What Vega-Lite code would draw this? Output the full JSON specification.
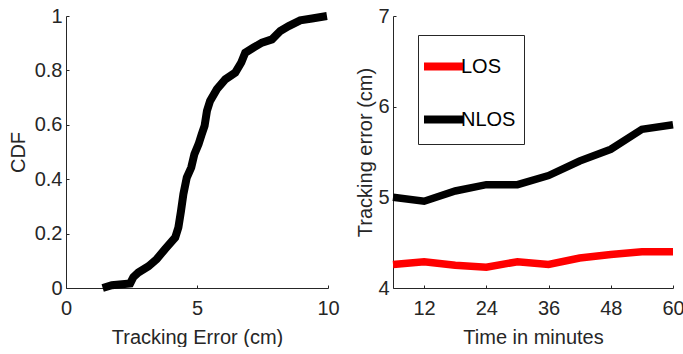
{
  "$schema": "https://vega.github.io/schema/vega-lite/v6.json",
  "padding": {"left": 8, "top": 0, "right": 0, "bottom": 0},
  "background": "white",
  "spacing": 12,
  "config": {
    "font": "Liberation Sans",
    "view": {"stroke": null},
    "axis": {
      "grid": false,
      "domainColor": "#262626",
      "tickColor": "#262626",
      "labelColor": "#262626",
      "titleColor": "#262626",
      "labelFontSize": 20,
      "titleFontSize": 20,
      "titleFontWeight": "normal",
      "tickSize": -3,
      "domainWidth": 1,
      "labelFlush": false
    },
    "axisX": {"labelPadding": 13, "titlePadding": 9},
    "axisY": {"labelPadding": 7, "titlePadding": 6},
    "legend": {
      "labelFontSize": 20,
      "labelColor": "black",
      "labelFont": "Liberation Sans"
    }
  },
  "hconcat": [
    {
      "width": 262,
      "height": 272,
      "data": {
        "values": [
          {"error": 1.4, "cdf": 0.0},
          {"error": 1.75, "cdf": 0.01},
          {"error": 2.45, "cdf": 0.017},
          {"error": 2.57, "cdf": 0.04},
          {"error": 2.76, "cdf": 0.057},
          {"error": 3.15, "cdf": 0.08},
          {"error": 3.46, "cdf": 0.106},
          {"error": 3.78, "cdf": 0.143},
          {"error": 4.17, "cdf": 0.186},
          {"error": 4.29, "cdf": 0.223},
          {"error": 4.39, "cdf": 0.284},
          {"error": 4.48, "cdf": 0.345},
          {"error": 4.61, "cdf": 0.406},
          {"error": 4.78, "cdf": 0.443},
          {"error": 4.9, "cdf": 0.492},
          {"error": 5.06, "cdf": 0.529},
          {"error": 5.18, "cdf": 0.565},
          {"error": 5.29, "cdf": 0.596},
          {"error": 5.38, "cdf": 0.651},
          {"error": 5.5, "cdf": 0.688},
          {"error": 5.76, "cdf": 0.731},
          {"error": 6.08, "cdf": 0.767},
          {"error": 6.46, "cdf": 0.792},
          {"error": 6.69, "cdf": 0.829},
          {"error": 6.84, "cdf": 0.865},
          {"error": 7.16, "cdf": 0.884},
          {"error": 7.48, "cdf": 0.902},
          {"error": 7.86, "cdf": 0.914},
          {"error": 8.18, "cdf": 0.945},
          {"error": 8.5, "cdf": 0.963},
          {"error": 8.94, "cdf": 0.984},
          {"error": 9.39, "cdf": 0.991},
          {"error": 9.96, "cdf": 1.0}
        ]
      },
      "mark": {"type": "line", "color": "black", "strokeWidth": 8},
      "encoding": {
        "x": {
          "field": "error",
          "type": "quantitative",
          "scale": {"domain": [0, 10], "nice": false},
          "axis": {"values": [0, 5, 10], "title": "Tracking Error (cm)"}
        },
        "y": {
          "field": "cdf",
          "type": "quantitative",
          "scale": {"domain": [0, 1], "nice": false},
          "axis": {"values": [0, 0.2, 0.4, 0.6, 0.8, 1], "format": "~g", "title": "CDF"}
        }
      }
    },
    {
      "width": 280,
      "height": 272,
      "data": {
        "values": [
          {"time": 6, "cond": "LOS", "err": 4.26},
          {"time": 12, "cond": "LOS", "err": 4.29},
          {"time": 18, "cond": "LOS", "err": 4.25},
          {"time": 24, "cond": "LOS", "err": 4.23},
          {"time": 30, "cond": "LOS", "err": 4.29},
          {"time": 36, "cond": "LOS", "err": 4.26},
          {"time": 42, "cond": "LOS", "err": 4.33},
          {"time": 48, "cond": "LOS", "err": 4.37},
          {"time": 54, "cond": "LOS", "err": 4.4},
          {"time": 60, "cond": "LOS", "err": 4.4},
          {"time": 6, "cond": "NLOS", "err": 5.0},
          {"time": 12, "cond": "NLOS", "err": 4.957},
          {"time": 18, "cond": "NLOS", "err": 5.07},
          {"time": 24, "cond": "NLOS", "err": 5.14},
          {"time": 30, "cond": "NLOS", "err": 5.14},
          {"time": 36, "cond": "NLOS", "err": 5.24},
          {"time": 42, "cond": "NLOS", "err": 5.4},
          {"time": 48, "cond": "NLOS", "err": 5.53},
          {"time": 54, "cond": "NLOS", "err": 5.75},
          {"time": 60, "cond": "NLOS", "err": 5.8}
        ]
      },
      "mark": {"type": "line", "strokeWidth": 7.5},
      "encoding": {
        "x": {
          "field": "time",
          "type": "quantitative",
          "scale": {"domain": [6, 60], "nice": false, "zero": false},
          "axis": {"values": [12, 24, 36, 48, 60], "title": "Time in minutes"}
        },
        "y": {
          "field": "err",
          "type": "quantitative",
          "scale": {"domain": [4, 7], "nice": false, "zero": false},
          "axis": {"values": [4, 5, 6, 7], "title": "Tracking error (cm)", "titlePadding": 2}
        },
        "color": {
          "field": "cond",
          "type": "nominal",
          "scale": {"domain": ["LOS", "NLOS"], "range": ["#ff0000", "#000000"]},
          "legend": {
            "title": "\u00a0\u00a0\u00a0\u00a0\u00a0",
            "titleOrient": "right",
            "titlePadding": 0,
            "titleFontSize": 20,
            "orient": "none",
            "legendX": 352,
            "legendY": 19,
            "symbolType": "stroke",
            "symbolSize": 1521,
            "symbolStrokeWidth": 8,
            "symbolOffset": -6,
            "labelOffset": -6,
            "rowPadding": 13,
            "padding": 8,
            "strokeColor": "#262626",
            "fillColor": "white"
          }
        }
      }
    }
  ]
}
